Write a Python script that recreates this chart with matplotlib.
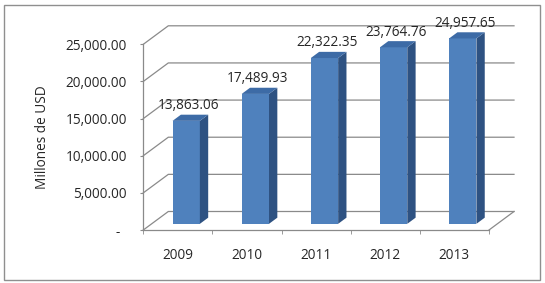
import numpy as np
import matplotlib
matplotlib.use("Agg")
import matplotlib.pyplot as plt
from matplotlib.patches import Polygon, Rectangle

years = ["2009", "2010", "2011", "2012", "2013"]
values = [13863.06, 17489.93, 22322.35, 23764.76, 24957.65]
y_ticks = [0, 5000, 10000, 15000, 20000, 25000]
y_tick_labels = ["-  ", "5,000.00", "10,000.00", "15,000.00", "20,000.00", "25,000.00"]
y_title = "Millones de USD"

plt.rcParams['font.family'] = ['Open Sans', 'DejaVu Sans']

front_col = "#4F81BD"
side_col = "#2E5282"
top_col = "#3D6BA6"
grid_col = "#8A8A8A"
text_col = "#262626"
fs = 9.8

fig = plt.figure(figsize=(5.45, 2.83), dpi=100)
ax_w, ax_h = 345.7 / 545, 185.7 / 283
ax = fig.add_axes([143.3 / 545, 53 / 283, ax_w, ax_h])
ax.set_xlim(0, len(years))
ax.set_ylim(0, 25000)

# depth of the 3d box in pixels, turned into data units
depth_px = (25, 18.5)
ddx = depth_px[0] * len(years) / (ax_w * 545)
ddy = depth_px[1] * 25000 / (ax_h * 283)

for v in y_ticks:
    ax.plot([0, ddx, len(years) + ddx], [v, v + ddy, v + ddy], color=grid_col, lw=0.9, clip_on=False, zorder=1)
ax.plot([len(years), len(years) + ddx], [0, ddy], color=grid_col, lw=0.9, clip_on=False, zorder=1)

bar_w = 0.395
for i, v in enumerate(values):
    x0 = i + 0.5 - bar_w / 2 + ddx / 3
    y0 = ddy / 3
    ax.add_patch(Rectangle((x0, y0), bar_w, v, facecolor=front_col, edgecolor="none", zorder=3, clip_on=False))
    side = [(x0 + bar_w, y0), (x0 + bar_w + ddx / 3, y0 + ddy / 3),
            (x0 + bar_w + ddx / 3, y0 + v + ddy / 3), (x0 + bar_w, y0 + v)]
    ax.add_patch(Polygon(side, facecolor=side_col, edgecolor="none", zorder=3, clip_on=False))
    top = [(x0, y0 + v), (x0 + bar_w, y0 + v),
           (x0 + bar_w + ddx / 3, y0 + v + ddy / 3), (x0 + ddx / 3, y0 + v + ddy / 3)]
    ax.add_patch(Polygon(top, facecolor=top_col, edgecolor="none", zorder=3, clip_on=False))
    ax.annotate(f"{v:,.2f}", xy=(x0 + bar_w / 2 + ddx / 12, y0 + v + ddy / 3), xytext=(0, 6.5),
                textcoords="offset points", ha="center", va="center", fontsize=fs, color=text_col,
                annotation_clip=False, zorder=4)

for s in ["top", "right"]:
    ax.spines[s].set_visible(False)
for s in ["left", "bottom"]:
    ax.spines[s].set_color(grid_col)
    ax.spines[s].set_linewidth(0.9)

ax.set_yticks(y_ticks)
ax.set_yticklabels(y_tick_labels)
ax.tick_params(axis="y", length=2.2, pad=9.6, color=grid_col, labelsize=fs, labelcolor=text_col)
ax.set_xticks(np.arange(len(years)) + 0.5)
ax.set_xticklabels(years)
ax.set_xticks(np.arange(len(years) + 1), minor=True)
ax.tick_params(axis="x", which="major", length=0, pad=13, labelsize=fs, labelcolor=text_col)
ax.tick_params(axis="x", which="minor", length=2.9, color=grid_col)
ax.set_facecolor("none")

fig.text(42.5 / 545, 1 - 137.5 / 283, y_title, rotation=90, ha="center", va="center",
         fontsize=fs, color=text_col)

fig.patches.append(Rectangle((4 / 545, 3 / 283), 536 / 545, 275 / 283, transform=fig.transFigure,
                             fill=False, edgecolor="#8F8F8F", lw=1))

fig.savefig("out.png", dpi=100)
